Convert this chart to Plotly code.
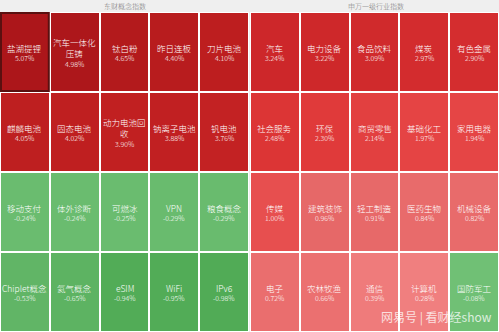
import plotly.graph_objects as go

# ---- data ----
left_title = "东财概念指数"
right_title = "申万一级行业指数"

left_names = [
    ["盐湖提锂", "汽车一体化<br>压铸", "钛白粉", "昨日连板", "刀片电池"],
    ["麒麟电池", "固态电池", "动力电池回<br>收", "钠离子电池", "钒电池"],
    ["移动支付", "体外诊断", "可燃冰", "VPN", "粮食概念"],
    ["Chiplet概念", "氦气概念", "eSIM", "WiFi", "IPv6"],
]
left_values = [
    [5.07, 4.98, 4.65, 4.40, 4.10],
    [4.05, 4.02, 3.90, 3.88, 3.76],
    [-0.24, -0.24, -0.25, -0.29, -0.29],
    [-0.53, -0.65, -0.94, -0.95, -0.98],
]
right_names = [
    ["汽车", "电力设备", "食品饮料", "煤炭", "有色金属"],
    ["社会服务", "环保", "商贸零售", "基础化工", "家用电器"],
    ["传媒", "建筑装饰", "轻工制造", "医药生物", "机械设备"],
    ["电子", "农林牧渔", "通信", "计算机", "国防军工"],
]
right_values = [
    [3.24, 3.22, 3.09, 2.97, 2.90],
    [2.48, 2.30, 2.14, 1.97, 1.94],
    [1.00, 0.96, 0.91, 0.84, 0.82],
    [0.72, 0.66, 0.39, 0.28, -0.08],
]
watermark = "网易号 | 看财经show"

# ---- styling ----
ZMIN, ZMAX = -1.0, 5.1
def pos(v):
    return (v - ZMIN) / (ZMAX - ZMIN)

colorscale = [
    [0.0, "#50ab55"],
    [pos(-0.5), "#62b667"],
    [pos(-0.01), "#72c277"],
    [pos(0.0), "#f39090"],
    [pos(0.3), "#f07e7e"],
    [pos(0.72), "#ea6e6e"],
    [pos(0.98), "#e66767"],
    [pos(1.0), "#e74f4f"],
    [pos(2.0), "#e54444"],
    [pos(2.5), "#dc3434"],
    [pos(3.25), "#cd272a"],
    [pos(4.0), "#bf1f20"],
    [1.0, "#ab161a"],
]

FONT = "Noto Sans CJK SC, Microsoft YaHei, sans-serif"
NAME_SIZE = 8.5
VAL_SIZE = 7
LINE_H = 11
VAL_H = 9

fig = go.Figure()
cols = [0, 1, 2, 3, 4]
rows = [0, 1, 2, 3]

for xa, ya, vals in (("x", "y", left_values), ("x2", "y2", right_values)):
    fig.add_trace(go.Heatmap(
        z=vals, x=cols, y=rows, xaxis=xa, yaxis=ya,
        colorscale=colorscale, zmin=ZMIN, zmax=ZMAX,
        showscale=False, xgap=2, ygap=2, hoverinfo="skip",
    ))

annotations = []
for xa, ya, names, vals in (("x", "y", left_names, left_values),
                            ("x2", "y2", right_names, right_values)):
    for r in rows:
        for c in cols:
            name = names[r][c]
            n = name.count("<br>") + 1
            total = n * LINE_H + VAL_H + (1 if n > 1 else 0)
            annotations.append(dict(
                x=c, y=r, xref=xa, yref=ya, text=name, showarrow=False,
                font=dict(family=FONT, size=NAME_SIZE, color="white", weight=300),
                yanchor="middle", xanchor="center",
                yshift=total / 2 - n * LINE_H / 2,
            ))
            annotations.append(dict(
                x=c, y=r, xref=xa, yref=ya, text=f"{vals[r][c]:.2f}%", showarrow=False,
                font=dict(family=FONT, size=VAL_SIZE, color="white", weight=300),
                yanchor="middle", xanchor="center",
                yshift=-(total / 2 - VAL_H / 2),
            ))

W, H = 499, 332
top = 12
ydom = [0, (H - top) / H]
annotations.append(dict(x=0.25, y=1 - 6 / H, xref="paper", yref="paper", text=left_title,
                        showarrow=False, font=dict(family=FONT, size=7, color="#777777", weight=300),
                        xanchor="center", yanchor="middle"))
annotations.append(dict(x=376 / W, y=1 - 6 / H, xref="paper", yref="paper", text=right_title,
                        showarrow=False, font=dict(family=FONT, size=7, color="#777777", weight=300),
                        xanchor="center", yanchor="middle"))
annotations.append(dict(x=436 / W, y=1 - 317 / H, xref="paper", yref="paper", text=watermark,
                        showarrow=False, opacity=0.75,
                        font=dict(family=FONT, size=12, color="white"),
                        xanchor="center", yanchor="middle"))

fig.update_layout(
    width=W, height=H,
    margin=dict(l=0, r=0, t=0, b=0),
    paper_bgcolor="#efefef", plot_bgcolor="#ffffff",
    annotations=annotations,
    xaxis=dict(domain=[0, 249 / W], range=[-0.5, 4.5], visible=False, fixedrange=True),
    yaxis=dict(domain=ydom, range=[3.5, -0.5], visible=False, fixedrange=True),
    xaxis2=dict(domain=[250 / W, 1], range=[-0.5, 4.5], visible=False, fixedrange=True),
    yaxis2=dict(domain=ydom, range=[3.5, -0.5], visible=False, fixedrange=True, anchor="x2"),
    shapes=[dict(type="rect", xref="x", yref="y", x0=-0.5 + 0.02, x1=0.5 - 0.02,
                 y0=-0.5 + 0.012, y1=0.5 - 0.012,
                 line=dict(color="#5a1010", width=2))],
)
fig.update_layout(xaxis2_anchor="y2")

fig.write_html("out.html", config={"displayModeBar": False})
